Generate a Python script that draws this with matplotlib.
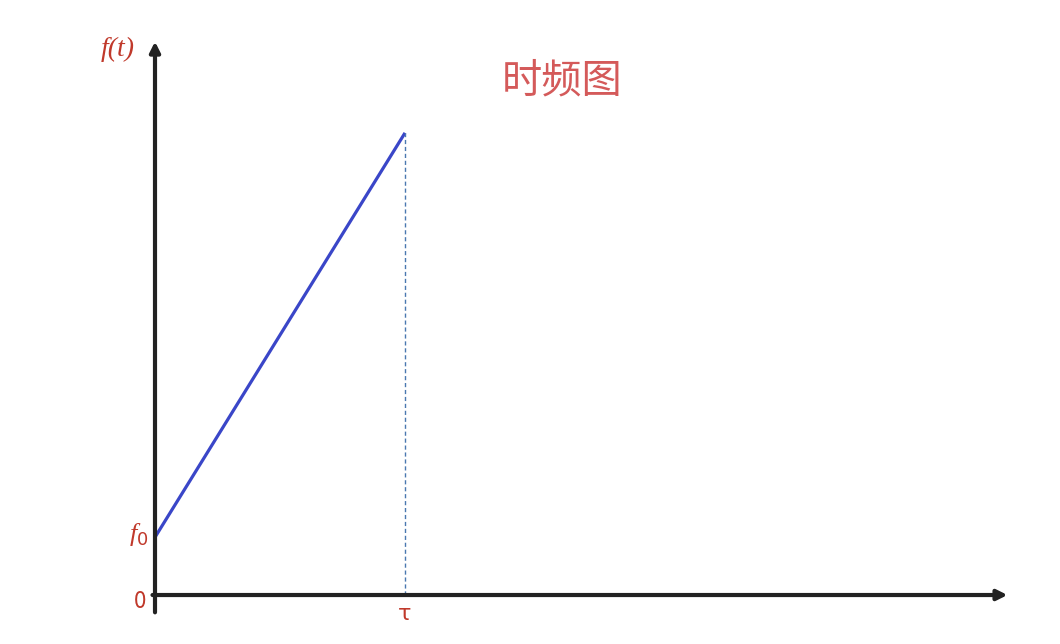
import numpy as np
import matplotlib.pyplot as plt

plt.rcParams['font.family'] = ['Noto Sans CJK SC', 'DejaVu Sans']

# --- data: linear chirp, frequency vs time ---
t_points = [0.0, 1.0]      # 0 .. tau
f_points = [1.0, 8.0]      # f0 .. f(tau)
tau = t_points[1]
f0 = f_points[0]
x_axis_end = 3.41
y_axis_end = 9.58

red = '#c0392b'

fig = plt.figure(figsize=(10.6, 6.44), dpi=100)
ax = fig.add_axes([0, 0, 1, 1])
ax.set_xlim(-0.62, 3.62)
ax.set_ylim(-0.848, 10.30)
ax.axis('off')

# axes with arrows
ax.annotate('', xy=(x_axis_end, 0), xytext=(-0.01, 0),
            arrowprops=dict(arrowstyle='-|>,head_length=0.6,head_width=0.3',
                            color='#222222', lw=3, shrinkA=0, shrinkB=0))
ax.annotate('', xy=(0, y_axis_end), xytext=(0, -0.3),
            arrowprops=dict(arrowstyle='-|>,head_length=0.6,head_width=0.3',
                            color='#222222', lw=3, shrinkA=0, shrinkB=0))

# chirp line
ax.plot(t_points, f_points, color='#3a46c8', lw=2.3, solid_capstyle='butt')
# dashed guide at tau
ax.plot([tau, tau], [0, f_points[1]], color='#4a78b0', lw=1, ls=(0, (3, 2)))

# labels
ax.text(-0.148, 9.44, 'f(t)', color=red, fontsize=20, style='italic',
        family='Liberation Serif', ha='center', va='center')
ax.text(-0.088, f0 + 0.05, 'f', color=red, fontsize=19, style='italic',
        family='Liberation Serif', ha='center', va='center')
ax.text(-0.049, f0 - 0.05, '0', color=red, fontsize=13,
        family='DejaVu Sans', ha='center', va='center')
ax.text(-0.06, -0.12, '0', color=red, fontsize=16,
        ha='center', va='center')
ax.text(tau, -0.33, 'τ', color=red, fontsize=16, family='DejaVu Sans',
        ha='center', va='center')

ax.text(1.63, 8.9, '时频图', color='#d45a5a', fontsize=29,
        ha='center', va='center', fontweight='light')

fig.savefig('out.png', dpi=100, facecolor='white')
